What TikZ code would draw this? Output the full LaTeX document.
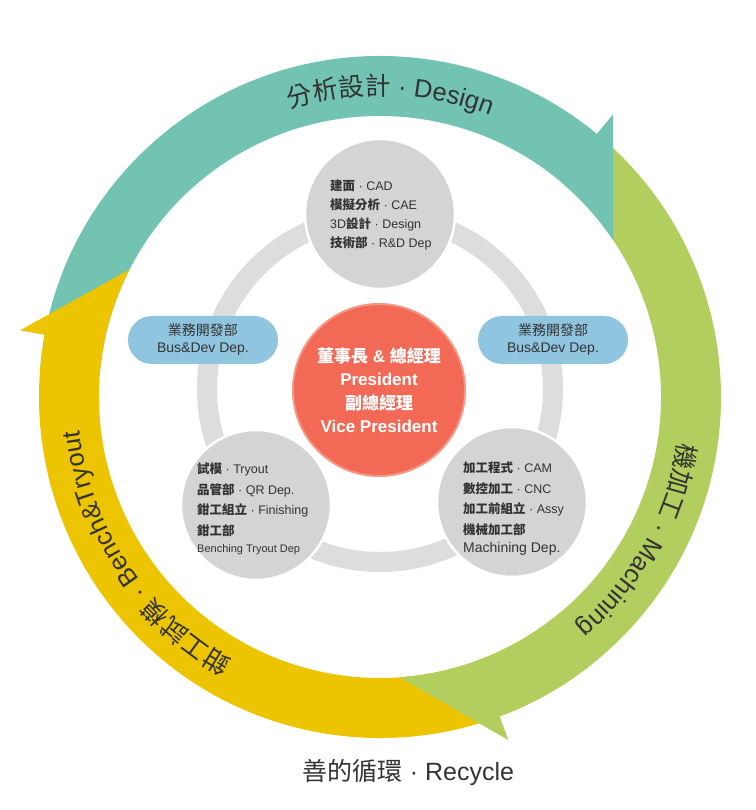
\documentclass[tikz,border=0pt]{standalone}
\usepackage{fontspec}
\setmainfont{Liberation Sans}
\newfontfamily\cjk{Noto Sans CJK TC}
\usetikzlibrary{decorations.text}

\definecolor{tealarc}{RGB}{114,195,177}
\definecolor{greenarc}{RGB}{178,206,94}
\definecolor{yellowarc}{RGB}{236,196,0}
\definecolor{redcore}{RGB}{242,106,86}
\definecolor{redrim}{RGB}{247,150,130}
\definecolor{pillblue}{RGB}{143,197,223}
\definecolor{ringgray}{RGB}{221,221,221}
\definecolor{discgray}{RGB}{212,212,212}
\definecolor{ink}{RGB}{51,51,51}

\newcommand{\zh}[1]{{\cjk #1}}
\newcommand{\zhb}[1]{{\cjk\bfseries #1}}
\newcommand{\arcfont}{\fontsize{25.5}{25.5}\selectfont}

% radii of the cycle band
\def\Rout{341}\def\Rin{281}\def\Rtip{366}\def\Rtxt{302}

% one band of the cycle: start angle, tip angle, colour
\newcommand{\ringpiece}[3]{%
  \fill[#3] (#1:\Rout) arc[start angle=#1, end angle=#2, radius=\Rout]
    -- (#2:\Rtip) -- ({#2-16.5}:\Rin)
    arc[start angle={#2-16.5}, end angle=#1, radius=\Rin] -- cycle;}

\begin{document}
\begin{tikzpicture}[x=1pt,y=1pt,
  disc/.style={circle, minimum size=150, inner sep=0, fill=discgray, draw=white, line width=2.5},
  disctext/.style={anchor=west, inner sep=0, align=left, text=ink, font=\fontsize{12.5}{20.5}\selectfont},
  pill/.style={rectangle, rounded corners=24, minimum width=150, minimum height=48, inner sep=0,
    fill=pillblue, align=center, text=ink, font=\fontsize{14}{17}\selectfont},
  core/.style={circle, minimum size=172, inner sep=0, fill=redcore, draw=redrim, line width=2,
    align=center, text=white, font=\fontsize{17}{23.5}\selectfont\bfseries}]

\useasboundingbox (-380,-413) rectangle (375,397);
\fill[white] (-380,-413) rectangle (375,397);

% the cycle
\ringpiece{50}{-69.5}{greenarc}
\ringpiece{175}{50.5}{tealarc}
\ringpiece{-55}{-190.5}{yellowarc}
\ringpiece{-50}{-69.5}{greenarc}

% labels along the cycle
\path[decorate, decoration={text along path, text align=center, text color=ink,
  text={|\arcfont\cjk|分析設計|\arcfont\rmfamily| · Design}}]
  (130:\Rtxt) arc[start angle=130, end angle=46, radius=\Rtxt];
\path[decorate, decoration={text along path, text align=center, text color=ink,
  text={|\arcfont\cjk|機加工|\arcfont\rmfamily| · Machining}}]
  (12:\Rtxt) arc[start angle=12, end angle=-70, radius=\Rtxt];
\path[decorate, decoration={text along path, text align=center, text color=ink,
  text={|\arcfont\cjk|鉗工試模|\arcfont\rmfamily| · Bench{\&}Tryout}}]
  (-96.4:\Rtxt) arc[start angle=-96.4, end angle=-196.4, radius=\Rtxt];

% inner ring
\draw[ringgray, line width=20] (0,8) circle[radius=173];

% departments
\node[disc] (design) at (0,183) {};
\node[disc] (tryout) at (-124,-108) {};
\node[disc] (machining) at (132,-105) {};

\node[disctext, font=\fontsize{12.5}{19}\selectfont] (designtxt) at (-50,182.5)
  {\zhb{建面} · CAD\\\zhb{模擬分析} · CAE\\3D\zhb{設計} · Design\\\zhb{技術部} · R\&D Dep};
\node[disctext] (tryouttxt) at (-183,-112)
  {\zhb{試模} · Tryout\\\zhb{品管部} · QR Dep.\\\zhb{鉗工組立} · Finishing\\\zhb{鉗工部}\\[-3pt]{\fontsize{11}{13}\selectfont Benching Tryout Dep}};
\node[disctext] (machiningtxt) at (83,-112)
  {\zhb{加工程式} · CAM\\\zhb{數控加工} · CNC\\\zhb{加工前組立} · Assy\\\zhb{機械加工部}\\[-2pt]{\fontsize{14}{16}\selectfont Machining Dep.}};

\node[pill] (busleft) at (-177,57) {\zh{業務開發部}\\Bus\&Dev Dep.};
\node[pill] (busright) at (173,57) {\zh{業務開發部}\\Bus\&Dev Dep.};

\node[core] (president) at (-1,7)
  {\zhb{董事長} \& \zhb{總經理}\\President\\\zhb{副總經理}\\Vice President};

\node[font=\fontsize{25}{25}\selectfont, text=ink] (recycle) at (28.5,-376) {\zh{善的循環} · Recycle};

\end{tikzpicture}
\end{document}
